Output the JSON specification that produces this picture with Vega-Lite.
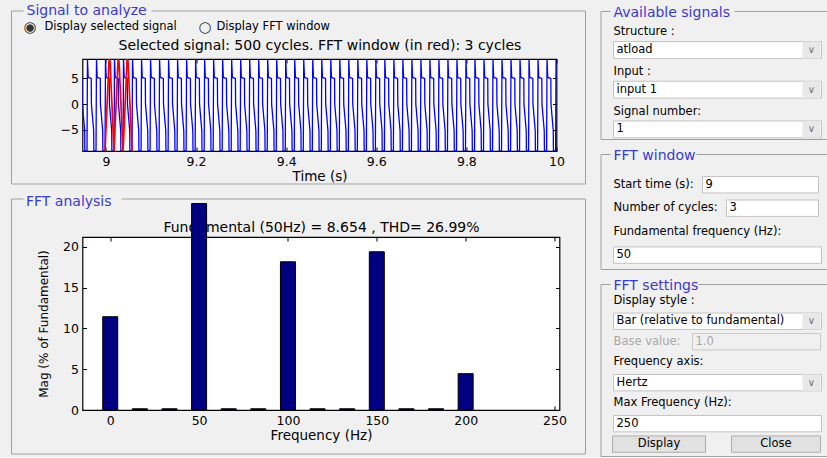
{
"$schema": "https://vega.github.io/schema/vega-lite/v6.json",
"background": "#f0f0f0",
"padding": {"left": 9.5, "top": 4, "right": 0, "bottom": 0},
"config": {
 "font": "DejaVu Sans",
 "view": {"stroke": "#000000", "strokeWidth": 1.2, "fill": "#ffffff"},
 "axis": {"grid": false, "domain": false, "tickColor": "#000000", "tickSize": -4, "tickWidth": 1, "labelFont": "DejaVu Sans", "labelFontSize": 12.5, "labelColor": "#000000", "labelPadding": 8, "labelFlush": false, "titleFont": "DejaVu Sans", "titleFontSize": 13.5, "titleFontWeight": "normal", "titleColor": "#000000"},
 "title": {"font": "DejaVu Sans", "fontWeight": "normal", "fontSize": 14, "color": "#3a3acf", "anchor": "start"}
},
"spacing": 12,
"hconcat": [
 {"spacing": 6, "vconcat": [
  {"spacing": 32, "bounds": "flush", "vconcat": [
   {
    "width": 474, "height": 16,
    "view": {"stroke": null, "fill": null},
    "data": {"values": [
     {"row": "h", "k": "title", "txt": "Signal to analyze"},
     {"row": "r", "k": "sym1", "txt": "◉"},
     {"row": "r", "k": "lab1", "txt": "Display selected signal"},
     {"row": "r", "k": "sym2", "txt": "○"},
     {"row": "r", "k": "lab2", "txt": "Display FFT window"}
    ]},
    "layer": [
     {"transform": [{"filter": "datum.k == 'title'"}], "mark": {"type": "rect", "filled": false, "stroke": "#a0a0a0", "strokeWidth": 1, "xOffset": -258, "width": 574, "yOffset": 86.5, "height": 173}},
     {"transform": [{"filter": "datum.k == 'title'"}], "mark": {"type": "rect", "fill": "#f0f0f0", "xOffset": -469, "width": 128, "yOffset": 0, "height": 13}},
     {"encoding": {"y": {"field": "row", "type": "ordinal", "axis": null, "scale": {"type": "point", "domain": ["h", "r"], "padding": 0}}},
      "layer": [
      {"transform": [{"filter": "datum.k == 'title'"}], "mark": {"type": "text", "align": "left", "dx": -293, "fontSize": 14, "color": "#3a3acf"}, "encoding": {"text": {"field": "txt"}}},
      {"transform": [{"filter": "datum.k == 'sym1'"}], "mark": {"type": "text", "align": "left", "dx": -296, "fontSize": 15, "color": "#333333"}, "encoding": {"text": {"field": "txt"}}},
      {"transform": [{"filter": "datum.k == 'lab1'"}], "mark": {"type": "text", "align": "left", "dx": -275, "fontSize": 11.5, "color": "#000000"}, "encoding": {"text": {"field": "txt"}}},
      {"transform": [{"filter": "datum.k == 'sym2'"}], "mark": {"type": "text", "align": "left", "dx": -121, "fontSize": 15, "color": "#333333"}, "encoding": {"text": {"field": "txt"}}},
      {"transform": [{"filter": "datum.k == 'lab2'"}], "mark": {"type": "text", "align": "left", "dx": -103, "fontSize": 11.5, "color": "#000000"}, "encoding": {"text": {"field": "txt"}}}
     ]}
    ]
   },
   {
    "width": 474, "height": 92,
    "layer": [
     {"data": {"values": [
{"t":8.938,"v":-9.15},{"t":8.939,"v":8.8},{"t":8.9406,"v":5.2},{"t":8.9474,"v":5},{"t":8.9478,"v":0},{"t":8.9528,"v":-5.2},{"t":8.9532,"v":-9.15},
{"t":8.958,"v":-9.15},{"t":8.959,"v":8.8},{"t":8.9606,"v":5.2},{"t":8.9674,"v":5},{"t":8.9678,"v":0},{"t":8.9728,"v":-5.2},{"t":8.9732,"v":-9.15},
{"t":8.978,"v":-9.15},{"t":8.979,"v":8.8},{"t":8.9806,"v":5.2},{"t":8.9874,"v":5},{"t":8.9878,"v":0},{"t":8.9928,"v":-5.2},{"t":8.9932,"v":-9.15},
{"t":8.998,"v":-9.15},{"t":8.999,"v":8.8},{"t":9.0006,"v":5.2},{"t":9.0074,"v":5},{"t":9.0078,"v":0},{"t":9.0128,"v":-5.2},{"t":9.0132,"v":-9.15},
{"t":9.018,"v":-9.15},{"t":9.019,"v":8.8},{"t":9.0206,"v":5.2},{"t":9.0274,"v":5},{"t":9.0278,"v":0},{"t":9.0328,"v":-5.2},{"t":9.0332,"v":-9.15},
{"t":9.038,"v":-9.15},{"t":9.039,"v":8.8},{"t":9.0406,"v":5.2},{"t":9.0474,"v":5},{"t":9.0478,"v":0},{"t":9.0528,"v":-5.2},{"t":9.0532,"v":-9.15},
{"t":9.058,"v":-9.15},{"t":9.059,"v":8.8},{"t":9.0606,"v":5.2},{"t":9.0674,"v":5},{"t":9.0678,"v":0},{"t":9.0728,"v":-5.2},{"t":9.0732,"v":-9.15},
{"t":9.078,"v":-9.15},{"t":9.079,"v":8.8},{"t":9.0806,"v":5.2},{"t":9.0874,"v":5},{"t":9.0878,"v":0},{"t":9.0928,"v":-5.2},{"t":9.0932,"v":-9.15},
{"t":9.098,"v":-9.15},{"t":9.099,"v":8.8},{"t":9.1006,"v":5.2},{"t":9.1074,"v":5},{"t":9.1078,"v":0},{"t":9.1128,"v":-5.2},{"t":9.1132,"v":-9.15},
{"t":9.118,"v":-9.15},{"t":9.119,"v":8.8},{"t":9.1206,"v":5.2},{"t":9.1274,"v":5},{"t":9.1278,"v":0},{"t":9.1328,"v":-5.2},{"t":9.1332,"v":-9.15},
{"t":9.138,"v":-9.15},{"t":9.139,"v":8.8},{"t":9.1406,"v":5.2},{"t":9.1474,"v":5},{"t":9.1478,"v":0},{"t":9.1528,"v":-5.2},{"t":9.1532,"v":-9.15},
{"t":9.158,"v":-9.15},{"t":9.159,"v":8.8},{"t":9.1606,"v":5.2},{"t":9.1674,"v":5},{"t":9.1678,"v":0},{"t":9.1728,"v":-5.2},{"t":9.1732,"v":-9.15},
{"t":9.178,"v":-9.15},{"t":9.179,"v":8.8},{"t":9.1806,"v":5.2},{"t":9.1874,"v":5},{"t":9.1878,"v":0},{"t":9.1928,"v":-5.2},{"t":9.1932,"v":-9.15},
{"t":9.198,"v":-9.15},{"t":9.199,"v":8.8},{"t":9.2006,"v":5.2},{"t":9.2074,"v":5},{"t":9.2078,"v":0},{"t":9.2128,"v":-5.2},{"t":9.2132,"v":-9.15},
{"t":9.218,"v":-9.15},{"t":9.219,"v":8.8},{"t":9.2206,"v":5.2},{"t":9.2274,"v":5},{"t":9.2278,"v":0},{"t":9.2328,"v":-5.2},{"t":9.2332,"v":-9.15},
{"t":9.238,"v":-9.15},{"t":9.239,"v":8.8},{"t":9.2406,"v":5.2},{"t":9.2474,"v":5},{"t":9.2478,"v":0},{"t":9.2528,"v":-5.2},{"t":9.2532,"v":-9.15},
{"t":9.258,"v":-9.15},{"t":9.259,"v":8.8},{"t":9.2606,"v":5.2},{"t":9.2674,"v":5},{"t":9.2678,"v":0},{"t":9.2728,"v":-5.2},{"t":9.2732,"v":-9.15},
{"t":9.278,"v":-9.15},{"t":9.279,"v":8.8},{"t":9.2806,"v":5.2},{"t":9.2874,"v":5},{"t":9.2878,"v":0},{"t":9.2928,"v":-5.2},{"t":9.2932,"v":-9.15},
{"t":9.298,"v":-9.15},{"t":9.299,"v":8.8},{"t":9.3006,"v":5.2},{"t":9.3074,"v":5},{"t":9.3078,"v":0},{"t":9.3128,"v":-5.2},{"t":9.3132,"v":-9.15},
{"t":9.318,"v":-9.15},{"t":9.319,"v":8.8},{"t":9.3206,"v":5.2},{"t":9.3274,"v":5},{"t":9.3278,"v":0},{"t":9.3328,"v":-5.2},{"t":9.3332,"v":-9.15},
{"t":9.338,"v":-9.15},{"t":9.339,"v":8.8},{"t":9.3406,"v":5.2},{"t":9.3474,"v":5},{"t":9.3478,"v":0},{"t":9.3528,"v":-5.2},{"t":9.3532,"v":-9.15},
{"t":9.358,"v":-9.15},{"t":9.359,"v":8.8},{"t":9.3606,"v":5.2},{"t":9.3674,"v":5},{"t":9.3678,"v":0},{"t":9.3728,"v":-5.2},{"t":9.3732,"v":-9.15},
{"t":9.378,"v":-9.15},{"t":9.379,"v":8.8},{"t":9.3806,"v":5.2},{"t":9.3874,"v":5},{"t":9.3878,"v":0},{"t":9.3928,"v":-5.2},{"t":9.3932,"v":-9.15},
{"t":9.398,"v":-9.15},{"t":9.399,"v":8.8},{"t":9.4006,"v":5.2},{"t":9.4074,"v":5},{"t":9.4078,"v":0},{"t":9.4128,"v":-5.2},{"t":9.4132,"v":-9.15},
{"t":9.418,"v":-9.15},{"t":9.419,"v":8.8},{"t":9.4206,"v":5.2},{"t":9.4274,"v":5},{"t":9.4278,"v":0},{"t":9.4328,"v":-5.2},{"t":9.4332,"v":-9.15},
{"t":9.438,"v":-9.15},{"t":9.439,"v":8.8},{"t":9.4406,"v":5.2},{"t":9.4474,"v":5},{"t":9.4478,"v":0},{"t":9.4528,"v":-5.2},{"t":9.4532,"v":-9.15},
{"t":9.458,"v":-9.15},{"t":9.459,"v":8.8},{"t":9.4606,"v":5.2},{"t":9.4674,"v":5},{"t":9.4678,"v":0},{"t":9.4728,"v":-5.2},{"t":9.4732,"v":-9.15},
{"t":9.478,"v":-9.15},{"t":9.479,"v":8.8},{"t":9.4806,"v":5.2},{"t":9.4874,"v":5},{"t":9.4878,"v":0},{"t":9.4928,"v":-5.2},{"t":9.4932,"v":-9.15},
{"t":9.498,"v":-9.15},{"t":9.499,"v":8.8},{"t":9.5006,"v":5.2},{"t":9.5074,"v":5},{"t":9.5078,"v":0},{"t":9.5128,"v":-5.2},{"t":9.5132,"v":-9.15},
{"t":9.518,"v":-9.15},{"t":9.519,"v":8.8},{"t":9.5206,"v":5.2},{"t":9.5274,"v":5},{"t":9.5278,"v":0},{"t":9.5328,"v":-5.2},{"t":9.5332,"v":-9.15},
{"t":9.538,"v":-9.15},{"t":9.539,"v":8.8},{"t":9.5406,"v":5.2},{"t":9.5474,"v":5},{"t":9.5478,"v":0},{"t":9.5528,"v":-5.2},{"t":9.5532,"v":-9.15},
{"t":9.558,"v":-9.15},{"t":9.559,"v":8.8},{"t":9.5606,"v":5.2},{"t":9.5674,"v":5},{"t":9.5678,"v":0},{"t":9.5728,"v":-5.2},{"t":9.5732,"v":-9.15},
{"t":9.578,"v":-9.15},{"t":9.579,"v":8.8},{"t":9.5806,"v":5.2},{"t":9.5874,"v":5},{"t":9.5878,"v":0},{"t":9.5928,"v":-5.2},{"t":9.5932,"v":-9.15},
{"t":9.598,"v":-9.15},{"t":9.599,"v":8.8},{"t":9.6006,"v":5.2},{"t":9.6074,"v":5},{"t":9.6078,"v":0},{"t":9.6128,"v":-5.2},{"t":9.6132,"v":-9.15},
{"t":9.618,"v":-9.15},{"t":9.619,"v":8.8},{"t":9.6206,"v":5.2},{"t":9.6274,"v":5},{"t":9.6278,"v":0},{"t":9.6328,"v":-5.2},{"t":9.6332,"v":-9.15},
{"t":9.638,"v":-9.15},{"t":9.639,"v":8.8},{"t":9.6406,"v":5.2},{"t":9.6474,"v":5},{"t":9.6478,"v":0},{"t":9.6528,"v":-5.2},{"t":9.6532,"v":-9.15},
{"t":9.658,"v":-9.15},{"t":9.659,"v":8.8},{"t":9.6606,"v":5.2},{"t":9.6674,"v":5},{"t":9.6678,"v":0},{"t":9.6728,"v":-5.2},{"t":9.6732,"v":-9.15},
{"t":9.678,"v":-9.15},{"t":9.679,"v":8.8},{"t":9.6806,"v":5.2},{"t":9.6874,"v":5},{"t":9.6878,"v":0},{"t":9.6928,"v":-5.2},{"t":9.6932,"v":-9.15},
{"t":9.698,"v":-9.15},{"t":9.699,"v":8.8},{"t":9.7006,"v":5.2},{"t":9.7074,"v":5},{"t":9.7078,"v":0},{"t":9.7128,"v":-5.2},{"t":9.7132,"v":-9.15},
{"t":9.718,"v":-9.15},{"t":9.719,"v":8.8},{"t":9.7206,"v":5.2},{"t":9.7274,"v":5},{"t":9.7278,"v":0},{"t":9.7328,"v":-5.2},{"t":9.7332,"v":-9.15},
{"t":9.738,"v":-9.15},{"t":9.739,"v":8.8},{"t":9.7406,"v":5.2},{"t":9.7474,"v":5},{"t":9.7478,"v":0},{"t":9.7528,"v":-5.2},{"t":9.7532,"v":-9.15},
{"t":9.758,"v":-9.15},{"t":9.759,"v":8.8},{"t":9.7606,"v":5.2},{"t":9.7674,"v":5},{"t":9.7678,"v":0},{"t":9.7728,"v":-5.2},{"t":9.7732,"v":-9.15},
{"t":9.778,"v":-9.15},{"t":9.779,"v":8.8},{"t":9.7806,"v":5.2},{"t":9.7874,"v":5},{"t":9.7878,"v":0},{"t":9.7928,"v":-5.2},{"t":9.7932,"v":-9.15},
{"t":9.798,"v":-9.15},{"t":9.799,"v":8.8},{"t":9.8006,"v":5.2},{"t":9.8074,"v":5},{"t":9.8078,"v":0},{"t":9.8128,"v":-5.2},{"t":9.8132,"v":-9.15},
{"t":9.818,"v":-9.15},{"t":9.819,"v":8.8},{"t":9.8206,"v":5.2},{"t":9.8274,"v":5},{"t":9.8278,"v":0},{"t":9.8328,"v":-5.2},{"t":9.8332,"v":-9.15},
{"t":9.838,"v":-9.15},{"t":9.839,"v":8.8},{"t":9.8406,"v":5.2},{"t":9.8474,"v":5},{"t":9.8478,"v":0},{"t":9.8528,"v":-5.2},{"t":9.8532,"v":-9.15},
{"t":9.858,"v":-9.15},{"t":9.859,"v":8.8},{"t":9.8606,"v":5.2},{"t":9.8674,"v":5},{"t":9.8678,"v":0},{"t":9.8728,"v":-5.2},{"t":9.8732,"v":-9.15},
{"t":9.878,"v":-9.15},{"t":9.879,"v":8.8},{"t":9.8806,"v":5.2},{"t":9.8874,"v":5},{"t":9.8878,"v":0},{"t":9.8928,"v":-5.2},{"t":9.8932,"v":-9.15},
{"t":9.898,"v":-9.15},{"t":9.899,"v":8.8},{"t":9.9006,"v":5.2},{"t":9.9074,"v":5},{"t":9.9078,"v":0},{"t":9.9128,"v":-5.2},{"t":9.9132,"v":-9.15},
{"t":9.918,"v":-9.15},{"t":9.919,"v":8.8},{"t":9.9206,"v":5.2},{"t":9.9274,"v":5},{"t":9.9278,"v":0},{"t":9.9328,"v":-5.2},{"t":9.9332,"v":-9.15},
{"t":9.938,"v":-9.15},{"t":9.939,"v":8.8},{"t":9.9406,"v":5.2},{"t":9.9474,"v":5},{"t":9.9478,"v":0},{"t":9.9528,"v":-5.2},{"t":9.9532,"v":-9.15},
{"t":9.958,"v":-9.15},{"t":9.959,"v":8.8},{"t":9.9606,"v":5.2},{"t":9.9674,"v":5},{"t":9.9678,"v":0},{"t":9.9728,"v":-5.2},{"t":9.9732,"v":-9.15},
{"t":9.978,"v":-9.15},{"t":9.979,"v":8.8},{"t":9.9806,"v":5.2},{"t":9.9874,"v":5},{"t":9.9878,"v":0},{"t":9.9928,"v":-5.2},{"t":9.9932,"v":-9.15},
{"t":9.998,"v":-9.15},{"t":9.999,"v":8.8},{"t":10.0006,"v":5.2},{"t":10.0074,"v":5}
     ]},
      "mark": {"type": "line", "color": "#0000ff", "strokeWidth": 1.3, "clip": true},
      "encoding": {
       "x": {"field": "t", "type": "quantitative", "scale": {"domain": [8.948, 10], "nice": false, "zero": false}, "axis": {"orient": "bottom", "values": [9, 9.2, 9.4, 9.6, 9.8, 10], "format": ".1~f", "title": "Time (s)", "titlePadding": 2}},
       "y": {"field": "v", "type": "quantitative", "scale": {"domain": [-9.15, 8.8], "nice": false, "zero": false}, "axis": {"orient": "left", "values": [-5, 0, 5], "title": null}}
      }},
     {"data": {"values": [
{"t":8.998,"v":-9.15},{"t":9.007,"v":8.8},{"t":9.009,"v":8.4},{"t":9.018,"v":-9.15},{"t":9.027,"v":8.8},{"t":9.029,"v":8.4},{"t":9.038,"v":-9.15},{"t":9.047,"v":8.8},{"t":9.049,"v":8.4},{"t":9.058,"v":-9.15}
     ]},
      "mark": {"type": "line", "color": "#ff0000", "strokeWidth": 1.7, "clip": true},
      "encoding": {
       "x": {"field": "t", "type": "quantitative", "scale": {"domain": [8.948, 10], "nice": false, "zero": false}, "axis": {"orient": "top", "values": [9, 9.2, 9.4, 9.6, 9.8, 10], "labels": false, "title": "Selected signal: 500 cycles. FFT window (in red): 3 cycles", "titleFontSize": 14, "titlePadding": 6}},
       "y": {"field": "v", "type": "quantitative", "scale": {"domain": [-9.15, 8.8], "nice": false, "zero": false}, "axis": {"orient": "right", "values": [-5, 0, 5], "labels": false, "title": null}}
      }}
    ],
    "resolve": {"axis": {"x": "independent", "y": "independent"}}
   }
  ]},
  {
   "width": 477, "height": 173,
   "title": {"text": "FFT analysis", "frame": "bounds", "dx": 15, "offset": -16},
   "data": {"values": [
    {"f": 0, "mag": 11.43}, {"f": 16.67, "mag": 0.15}, {"f": 33.33, "mag": 0.15}, {"f": 50, "mag": 25.3}, {"f": 66.67, "mag": 0.15}, {"f": 83.33, "mag": 0.15}, {"f": 100, "mag": 18.16}, {"f": 116.67, "mag": 0.15}, {"f": 133.33, "mag": 0.15}, {"f": 150, "mag": 19.39}, {"f": 166.67, "mag": 0.15}, {"f": 183.33, "mag": 0.15}, {"f": 200, "mag": 4.45}
   ]},
   "layer": [
    {"transform": [{"filter": "datum.f == 0"}], "mark": {"type": "rect", "filled": false, "stroke": "#a0a0a0", "strokeWidth": 1, "xOffset": -261, "width": 574, "yOffset": 89.5, "height": 255}},
    {"transform": [{"filter": "datum.f == 0"}], "mark": {"type": "rect", "fill": "#f0f0f0", "xOffset": -487, "width": 98, "yOffset": -38, "height": 13}},
    {"mark": {"type": "bar", "orient": "vertical", "size": 15, "fill": "#000080", "stroke": "#000000", "strokeWidth": 1},
     "encoding": {
      "x": {"field": "f", "type": "quantitative", "scale": {"domain": [-12.8, 250], "nice": false, "zero": false}, "axis": {"orient": "bottom", "values": [0, 50, 100, 150, 200, 250], "title": "Frequency (Hz)", "titlePadding": 2}},
      "y": {"field": "mag", "type": "quantitative", "scale": {"domain": [0, 21.2], "nice": false}, "axis": {"orient": "left", "values": [0, 5, 10, 15, 20], "title": "Mag (% of Fundamental)", "titleFontSize": 12, "titlePadding": 12}}
     }},
    {"mark": {"type": "bar", "orient": "vertical", "size": 15, "opacity": 0},
     "encoding": {
      "x": {"field": "f", "type": "quantitative", "scale": {"domain": [-12.8, 250], "nice": false, "zero": false}, "axis": {"orient": "top", "values": [0, 50, 100, 150, 200, 250], "labels": false, "title": "Fundamental (50Hz) = 8.654 , THD= 26.99%", "titleFontSize": 14, "titlePadding": 2}},
      "y": {"field": "mag", "type": "quantitative", "scale": {"domain": [0, 21.2], "nice": false}, "axis": {"orient": "right", "values": [0, 5, 10, 15, 20], "labels": false, "title": null}}
     }}
   ],
   "resolve": {"axis": {"x": "independent", "y": "independent"}}
  }
 ]},
 {"spacing": 7, "vconcat": [
  {
   "width": 227, "height": 128,
   "view": {"stroke": "#a0a0a0", "strokeWidth": 1, "fill": null},
   "title": {"text": "Available signals", "frame": "group", "dx": 13, "offset": -15},
   "data": {"values": [
    {"r": 1, "k": "label", "txt": "Structure :"},
    {"r": 2, "k": "drop", "txt": "atload"},
    {"r": 3, "k": "label", "txt": "Input :"},
    {"r": 4, "k": "drop", "txt": "input 1"},
    {"r": 5, "k": "label", "txt": "Signal number:"},
    {"r": 6, "k": "drop", "txt": "1"}
   ]},
   "layer": [
    {"transform": [{"filter": "datum.r == 1"}], "mark": {"type": "rect", "fill": "#f0f0f0", "xOffset": -155, "width": 124, "yOffset": 0, "height": 12}},
    {"encoding": {"y": {"field": "r", "type": "ordinal", "axis": null, "scale": {"paddingInner": 0.15, "paddingOuter": 0.3, "align": 0.9}}},
     "layer": [
     {"transform": [{"filter": "datum.k != 'label'"}], "mark": {"type": "rect", "fill": "#ffffff", "stroke": "#c3c3c3", "strokeWidth": 1, "xOffset": -110, "width": 208}},
     {"transform": [{"filter": "datum.k == 'drop'"}], "mark": {"type": "rect", "fill": "#e8e8e8", "xOffset": -16, "width": 18}},
     {"transform": [{"filter": "datum.k == 'drop'"}], "mark": {"type": "text", "text": "∨", "fontSize": 10, "color": "#707070", "dx": 97.5}},
     {"transform": [{"filter": "datum.k == 'label'"}], "mark": {"type": "text", "align": "left", "dx": -100.5, "dy": 2, "fontSize": 11.5, "color": "#000000"}, "encoding": {"text": {"field": "txt"}}},
     {"transform": [{"filter": "datum.k != 'label'"}], "mark": {"type": "text", "align": "left", "dx": -97.5, "fontSize": 11.5, "color": "#000000"}, "encoding": {"text": {"field": "txt"}}}
    ]}
   ]
  },
  {
   "width": 227, "height": 115,
   "view": {"stroke": "#a0a0a0", "strokeWidth": 1, "fill": null},
   "title": {"text": "FFT window", "frame": "group", "dx": 13, "offset": -15},
   "data": {"values": [
    {"r": 1, "k": "inA", "txt": "Start time (s):", "val": "9"},
    {"r": 2, "k": "inB", "txt": "Number of cycles:", "val": "3"},
    {"r": 3, "k": "label", "txt": "Fundamental frequency (Hz):"},
    {"r": 4, "k": "box", "txt": "50"}
   ]},
   "layer": [
    {"transform": [{"filter": "datum.r == 1"}], "mark": {"type": "rect", "fill": "#f0f0f0", "xOffset": -174, "width": 86, "yOffset": 0, "height": 12}},
    {"encoding": {"y": {"field": "r", "type": "ordinal", "axis": null, "scale": {"paddingInner": 0.3, "paddingOuter": 0.6, "align": 0.8}}},
     "layer": [
     {"transform": [{"filter": "datum.k == 'box'"}], "mark": {"type": "rect", "fill": "#ffffff", "stroke": "#c3c3c3", "strokeWidth": 1, "xOffset": -110, "width": 208}},
     {"transform": [{"filter": "datum.k == 'inA'"}], "mark": {"type": "rect", "fill": "#ffffff", "stroke": "#c3c3c3", "strokeWidth": 1, "xOffset": -67, "width": 116}},
     {"transform": [{"filter": "datum.k == 'inB'"}], "mark": {"type": "rect", "fill": "#ffffff", "stroke": "#c3c3c3", "strokeWidth": 1, "xOffset": -55, "width": 92}},
     {"transform": [{"filter": "datum.k != 'box'"}], "mark": {"type": "text", "align": "left", "dx": -100.5, "fontSize": 11.5, "color": "#000000"}, "encoding": {"text": {"field": "txt"}}},
     {"transform": [{"filter": "datum.k == 'box'"}], "mark": {"type": "text", "align": "left", "dx": -97.5, "fontSize": 11.5, "color": "#000000"}, "encoding": {"text": {"field": "txt"}}},
     {"transform": [{"filter": "datum.k == 'inA'"}], "mark": {"type": "text", "align": "left", "dx": -8.5, "fontSize": 11.5, "color": "#000000"}, "encoding": {"text": {"field": "val"}}},
     {"transform": [{"filter": "datum.k == 'inB'"}], "mark": {"type": "text", "align": "left", "dx": 15.5, "fontSize": 11.5, "color": "#000000"}, "encoding": {"text": {"field": "val"}}}
    ]}
   ]
  },
  {
   "width": 227, "height": 172,
   "view": {"stroke": "#a0a0a0", "strokeWidth": 1, "fill": null},
   "title": {"text": "FFT settings", "frame": "group", "dx": 13, "offset": -15},
   "data": {"values": [
    {"r": 1, "k": "label", "txt": "Display style :"},
    {"r": 2, "k": "drop", "txt": "Bar (relative to fundamental)"},
    {"r": 3, "k": "dis", "txt": "Base value:", "val": "1.0"},
    {"r": 4, "k": "label", "txt": "Frequency axis:"},
    {"r": 5, "k": "drop", "txt": "Hertz"},
    {"r": 6, "k": "label", "txt": "Max Frequency (Hz):"},
    {"r": 7, "k": "box", "txt": "250"},
    {"r": 8, "k": "btn", "txt": "Display", "val": "Close"}
   ]},
   "layer": [
    {"transform": [{"filter": "datum.r == 1"}], "mark": {"type": "rect", "fill": "#f0f0f0", "xOffset": -173, "width": 88, "yOffset": 0, "height": 12}},
    {"encoding": {"y": {"field": "r", "type": "ordinal", "axis": null, "scale": {"paddingInner": 0.2, "paddingOuter": 0.3, "align": 0.7}}},
     "layer": [
     {"transform": [{"filter": "datum.k == 'drop' || datum.k == 'box'"}], "mark": {"type": "rect", "fill": "#ffffff", "stroke": "#c3c3c3", "strokeWidth": 1, "xOffset": -110, "width": 208}},
     {"transform": [{"filter": "datum.k == 'drop'"}], "mark": {"type": "rect", "fill": "#e8e8e8", "xOffset": -16, "width": 18}},
     {"transform": [{"filter": "datum.k == 'drop'"}], "mark": {"type": "text", "text": "∨", "fontSize": 10, "color": "#707070", "dx": 97.5}},
     {"transform": [{"filter": "datum.k == 'dis'"}], "mark": {"type": "rect", "fill": "#f0f0f0", "stroke": "#c8c8c8", "strokeWidth": 1, "xOffset": -71, "width": 128}},
     {"transform": [{"filter": "datum.k == 'btn'"}], "mark": {"type": "rect", "fill": "#e1e1e1", "stroke": "#adadad", "strokeWidth": 1, "xOffset": -168.5, "width": 93}},
     {"transform": [{"filter": "datum.k == 'btn'"}], "mark": {"type": "rect", "fill": "#e1e1e1", "stroke": "#adadad", "strokeWidth": 1, "xOffset": -51.5, "width": 89}},
     {"transform": [{"filter": "datum.k == 'label' || datum.k == 'dis'"}], "mark": {"type": "text", "align": "left", "dx": -100.5, "fontSize": 11.5}, "encoding": {"text": {"field": "txt"}, "color": {"condition": {"test": "datum.k == 'dis'", "value": "#a8a8a8"}, "value": "#000000"}}},
     {"transform": [{"filter": "datum.k == 'drop' || datum.k == 'box'"}], "mark": {"type": "text", "align": "left", "dx": -97.5, "fontSize": 11.5, "color": "#000000"}, "encoding": {"text": {"field": "txt"}}},
     {"transform": [{"filter": "datum.k == 'dis'"}], "mark": {"type": "text", "align": "left", "dx": -18.5, "fontSize": 11.5, "color": "#a8a8a8"}, "encoding": {"text": {"field": "val"}}},
     {"transform": [{"filter": "datum.k == 'btn'"}], "mark": {"type": "text", "align": "center", "dx": -55, "fontSize": 11.5, "color": "#000000"}, "encoding": {"text": {"field": "txt"}}},
     {"transform": [{"filter": "datum.k == 'btn'"}], "mark": {"type": "text", "align": "center", "dx": 62, "fontSize": 11.5, "color": "#000000"}, "encoding": {"text": {"field": "val"}}}
    ]}
   ]
  }
 ]}
]
}
